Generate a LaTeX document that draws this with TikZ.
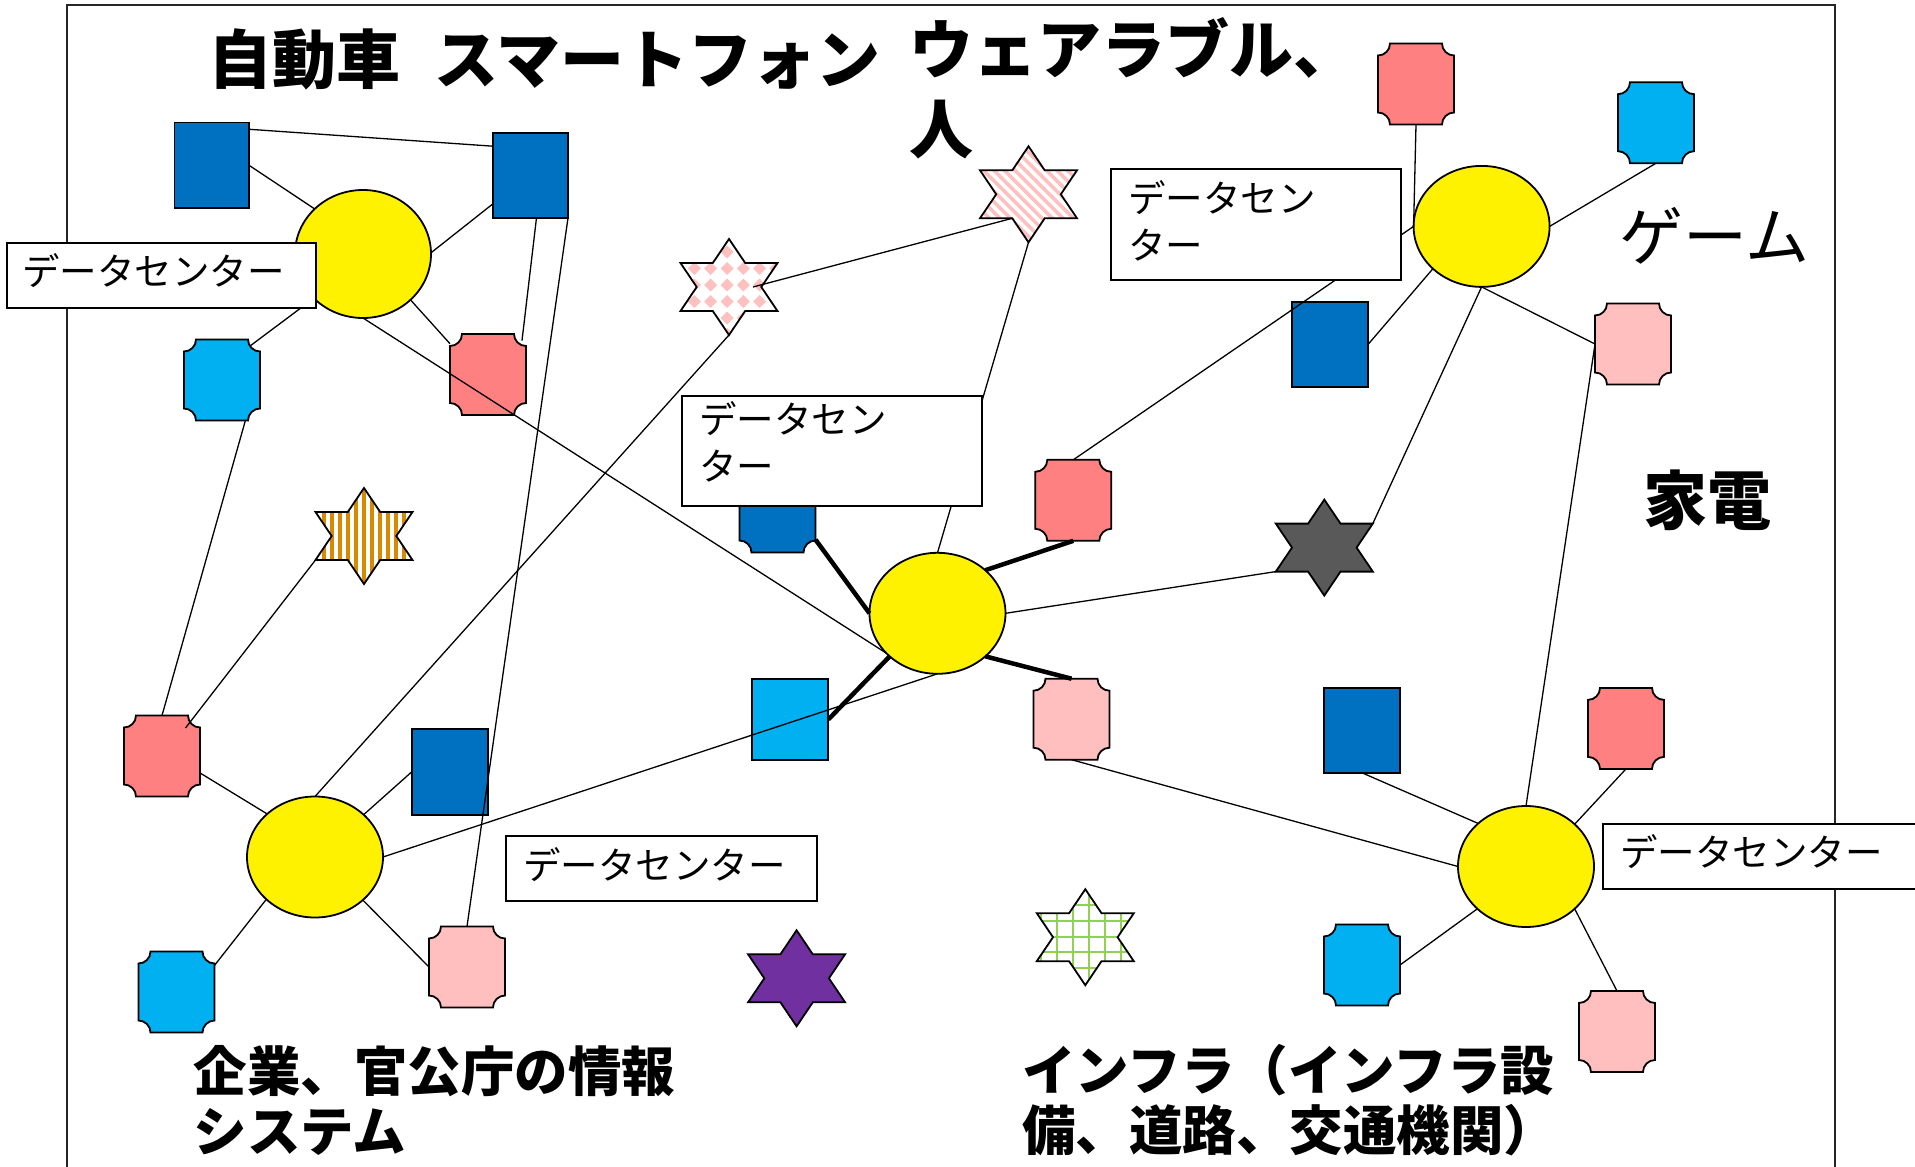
\documentclass[tikz,border=0pt]{standalone}
\usepackage{fontspec}
\newfontfamily\jp{Noto Sans CJK JP}
\usetikzlibrary{calc,shapes.geometric}
\definecolor{dblue}{RGB}{0,112,192}
\definecolor{lblue}{RGB}{0,176,240}
\definecolor{salmon}{RGB}{255,128,128}
\definecolor{lpink}{RGB}{255,191,191}
\definecolor{patpink}{RGB}{255,192,192}
\definecolor{dgray}{RGB}{89,89,89}
\definecolor{purp}{RGB}{112,48,160}
\definecolor{grn}{RGB}{146,208,80}
\definecolor{org}{RGB}{215,138,0}
\tikzset{
  conn/.style={line width=1.3pt, draw=black},
  thickconn/.style={line width=4.5pt, draw=black},
  shp/.style={line width=1.8pt, draw=black},
  dcell/.style={ellipse, shp, fill=yellow, inner sep=0pt, outer sep=0pt, minimum width=136pt, minimum height=121pt},
  rectn/.style={rectangle, shp, inner sep=0pt, outer sep=0pt, minimum width=76pt, minimum height=85pt},
  plqhold/.style={rectangle, inner sep=0pt, outer sep=0pt, minimum width=76pt, minimum height=81pt},
  starhold/.style={rectangle, inner sep=0pt, outer sep=0pt, minimum width=97pt, minimum height=96pt},
  lbox/.style={draw=black, line width=1.5pt, fill=white, anchor=north west, align=left, inner ysep=0pt, font=\jp\fontsize{37.5pt}{47.5pt}\selectfont},
  bigt/.style={inner sep=0pt, align=left, font=\jp\bfseries\fontsize{64pt}{77pt}\selectfont},
  midt/.style={inner sep=0pt, align=left, font=\jp\bfseries\fontsize{53.5pt}{60pt}\selectfont},
}
\newcommand\dnr[1]{\rule[-#1pt]{0pt}{0pt}}
\newcommand\myplaque[3]{%
  \node[plqhold] (#1) at (#2) {};
  \draw[shp, fill=#3] ($(#1.north west)+(12,0)$) -- ($(#1.north east)+(-12,0)$)
    arc[start angle=180,end angle=270,radius=12] -- ($(#1.south east)+(0,12)$)
    arc[start angle=90,end angle=180,radius=12] -- ($(#1.south west)+(12,0)$)
    arc[start angle=0,end angle=90,radius=12] -- ($(#1.north west)+(0,-12)$)
    arc[start angle=270,end angle=360,radius=12] -- cycle;
}
\newcommand\mystar[2]{%
  \node[starhold] (#1) at (#2) {};
  \coordinate (#1-t) at ($(#1)+(0,48)$);
  \coordinate (#1-b) at ($(#1)+(0,-48)$);
  \coordinate (#1-ur) at ($(#1)+(48.5,24)$);
  \coordinate (#1-ul) at ($(#1)+(-48.5,24)$);
  \coordinate (#1-lr) at ($(#1)+(48.5,-24)$);
  \coordinate (#1-ll) at ($(#1)+(-48.5,-24)$);
  \coordinate (#1-r) at ($(#1)+(32.3,0)$);
  \coordinate (#1-l) at ($(#1)+(-32.3,0)$);
  \coordinate (#1-iur) at ($(#1)+(16.2,24)$);
  \coordinate (#1-iul) at ($(#1)+(-16.2,24)$);
  \coordinate (#1-ilr) at ($(#1)+(16.2,-24)$);
  \coordinate (#1-ill) at ($(#1)+(-16.2,-24)$);
}
\newcommand\starpath[1]{(#1-t) -- (#1-iur) -- (#1-ur) -- (#1-r) -- (#1-lr) -- (#1-ilr) -- (#1-b) -- (#1-ill) -- (#1-ll) -- (#1-l) -- (#1-ul) -- (#1-iul) -- cycle}
\begin{document}
\begin{tikzpicture}[x=1pt,y=1pt]
\useasboundingbox (0,0) rectangle (1915,-1167);
\clip (0,0) rectangle (1915,-1167);
\fill[white] (0,0) rectangle (1915,-1167);
% frame
\draw[line width=1.5pt, black!85] (67,-1190) -- (67,-5) -- (1835,-5) -- (1835,-1190);

% ellipses (data centres)
\node[dcell, minimum height=128pt] (E1) at (363,-254) {};
\node[dcell] (Ebl) at (315,-857) {};
\node[dcell] (E0) at (937.5,-613.3) {};
\node[dcell] (Etr) at (1481.6,-226.4) {};
\node[dcell] (Ebr) at (1526,-866.5) {};

% rectangles
\node[rectn, fill=dblue, minimum width=74.5pt, minimum height=85.5pt] (A) at (211.75,-165.25) {};
\node[rectn, fill=dblue, minimum width=75pt] (B) at (530.5,-175.5) {};
\node[rectn, fill=dblue] (Dtr) at (1330,-344.5) {};
\node[rectn, fill=dblue, minimum height=86pt] (Dbl) at (450,-771.6) {};
\node[rectn, fill=dblue] (Dbr) at (1362,-730.3) {};
\node[rectn, fill=lblue, minimum height=81pt] (Crect) at (790.3,-719.5) {};

% plaques
\myplaque{R1}{488,-374.5}{salmon}
\myplaque{C1}{222,-380}{lblue}
\myplaque{Rbl}{162,-756}{salmon}
\myplaque{Cbl}{176.5,-992}{lblue}
\myplaque{Pbl}{467,-967}{lpink}
\myplaque{Dc}{777.5,-512}{dblue}
\myplaque{Rc}{1073.3,-500.3}{salmon}
\myplaque{Pc}{1071.5,-719.2}{lpink}
\myplaque{Rtop}{1416,-84}{salmon}
\myplaque{Ctop}{1656,-122.7}{lblue}
\myplaque{Ptr}{1633,-344}{lpink}
\myplaque{Rbr}{1626,-728.4}{salmon}
\myplaque{Cbr}{1362,-965}{lblue}
\myplaque{Pbr}{1617,-1031.5}{lpink}

% stars
\mystar{S1}{364,-536}
\mystar{Sck}{729,-287}
\mystar{Stop}{1028.5,-194.3}
\mystar{Sgray}{1324.3,-547.6}
\mystar{Spur}{796.6,-978.3}
\mystar{Sgrn}{1085.3,-937.2}

\fill[white] \starpath{S1};
\begin{scope}
  \clip \starpath{S1};
  \foreach \i in {-7,...,7} {\fill[org] ($(S1)+(\i*8-2,-50)$) rectangle ++(4,100);}
\end{scope}
\draw[shp] \starpath{S1};

\fill[white] \starpath{Sck};
\begin{scope}
  \clip \starpath{Sck};
  \foreach \i in {-4,...,4} {\foreach \j in {-4,...,4} {
    \fill[patpink] ($(Sck)+(-2+\i*16.3,2-\j*16.5)$) +(0,6.5) -- +(6.5,0) -- +(0,-6.5) -- +(-6.5,0) -- cycle;}}
\end{scope}
\draw[shp] \starpath{Sck};

\fill[white] \starpath{Stop};
\begin{scope}
  \clip \starpath{Stop};
  \foreach \i in {-12,...,12} {\draw[patpink, line width=3.5pt] ($(Stop)+(\i*10.5-55,55)$) -- ++(110,-110);}
\end{scope}
\draw[shp] \starpath{Stop};

\fill[dgray] \starpath{Sgray};
\draw[shp] \starpath{Sgray};

\fill[purp] \starpath{Spur};
\draw[shp] \starpath{Spur};

\fill[white] \starpath{Sgrn};
\begin{scope}
  \clip \starpath{Sgrn};
  \foreach \i in {-4,...,4} {
    \draw[grn, line width=2pt] ($(Sgrn)+(4+\i*16,-50)$) -- ++(0,100);
    \draw[grn, line width=2pt] ($(Sgrn)+(-50,0.5-\i*15.7)$) -- ++(100,0);}
\end{scope}
\draw[shp] \starpath{Sgrn};

% connectors
\draw[conn] (A.44.6) -- (B.142.3);
\draw[conn] (A.east) -- (E1.137);
\draw[conn] (E1.1) -- (B.217.5);
\draw[conn] (B.-82.6) -- ($(R1)+(34,33.9)$);
\draw[conn] (B.south east) -- (Pbl.north);
\draw[conn] (E1.-44) -- (R1.141);
\draw[conn] (E1.222) -- ($(C1)+(28,34)$);
\draw[conn] (C1.-60) -- (Rbl.north);
\draw[conn] (E1.south) -- (E0.218.5);
\draw[conn] ($(Rbl)+(23.5,28)$) -- (S1-ll);
\draw[conn] (Rbl.-24) -- (Ebl.138.7);
\draw[conn] (Sck-b) -- (Ebl.north);
\draw[conn] (Ebl.41) -- (Dbl.west);
\draw[conn] (Ebl.east) -- (E0.south);
\draw[conn] (Ebl.221.3) -- (Cbl.35);
\draw[conn] (Ebl.-42.6) -- (Pbl.west);
\draw[conn] ($(Sck)+(24,0)$) -- (Stop-ill);
\draw[conn] (Stop-b) -- (E0.north);
\draw[thickconn] (Dc.-36) -- (E0.west);
\draw[thickconn] (E0.42.4) -- (Rc.south);
\draw[thickconn] (E0.222.4) -- (Crect.east);
\draw[thickconn] (E0.-42.4) -- (Pc.north);
\draw[conn] (E0.east) -- (Sgray-ll);
\draw[conn] (Etr.south) -- (Sgray-ur);
\draw[conn] (Rc.north) -- (Etr.west);
\draw[conn] (Rtop.south) -- (Etr.west);
\draw[conn] (Etr.east) -- (Ctop.south);
\draw[conn] (Etr.221.8) -- (Dtr.east);
\draw[conn] (Etr.south) -- (Ptr.west);
\draw[conn] (Ptr.west) -- (Ebr.north);
\draw[conn] (Pc.south) -- (Ebr.west);
\draw[conn] (Dbr.south) -- (Ebr.138.3);
\draw[conn] (Rbr.south) -- (Ebr.41.3);
\draw[conn] (Ebr.221.7) -- (Cbr.east);
\draw[conn] (Ebr.-41.3) -- (Pbr.north);

% label boxes
\node[lbox, minimum width=309pt, minimum height=65pt, inner xsep=15.5pt, text width=278pt] (L1) at (6,-242) {データセンター\dnr{11}};
\node[lbox, minimum width=300pt, minimum height=110pt, inner xsep=17.7pt, text width=264.6pt] (Lc) at (681,-395) {データセン\\ター\dnr{19}};
\node[lbox, minimum width=290pt, minimum height=111pt, inner xsep=17.5pt, text width=255pt] (Ltr) at (1110,-168) {データセン\\ター\dnr{8}};
\node[lbox, minimum width=311pt, minimum height=65pt, inner xsep=17.5pt, text width=276pt] (Lbl) at (505,-835) {データセンター\dnr{10}};
\node[lbox, minimum width=330pt, minimum height=65pt, inner xsep=17.5pt, text width=295pt] (Lbr) at (1602,-823) {データセンター\dnr{11}};

% titles
\node[bigt, anchor=base west] (t1) at (208,-83.5) {自動車};
\node[bigt, anchor=base west] (t2) at (434,-83.5) {スマートフォン};
\node[bigt, anchor=north west, font=\jp\bfseries\fontsize{64pt}{80pt}\selectfont] (t3) at (909,-17) {ウェアラブル、\\人};
\node[inner sep=0pt, anchor=base west, font=\jp\fontsize{64pt}{77pt}\selectfont] (t4) at (1619,-260) {ゲーム};
\node[bigt, anchor=base west] (t5) at (1643,-524) {家電};
\node[midt, anchor=north west] (t6) at (193.5,-1045) {企業、官公庁の情報\\システム};
\node[midt, anchor=north west] (t7) at (1022,-1044) {インフラ（インフラ設\\備、道路、交通機関）};
\end{tikzpicture}
\end{document}
